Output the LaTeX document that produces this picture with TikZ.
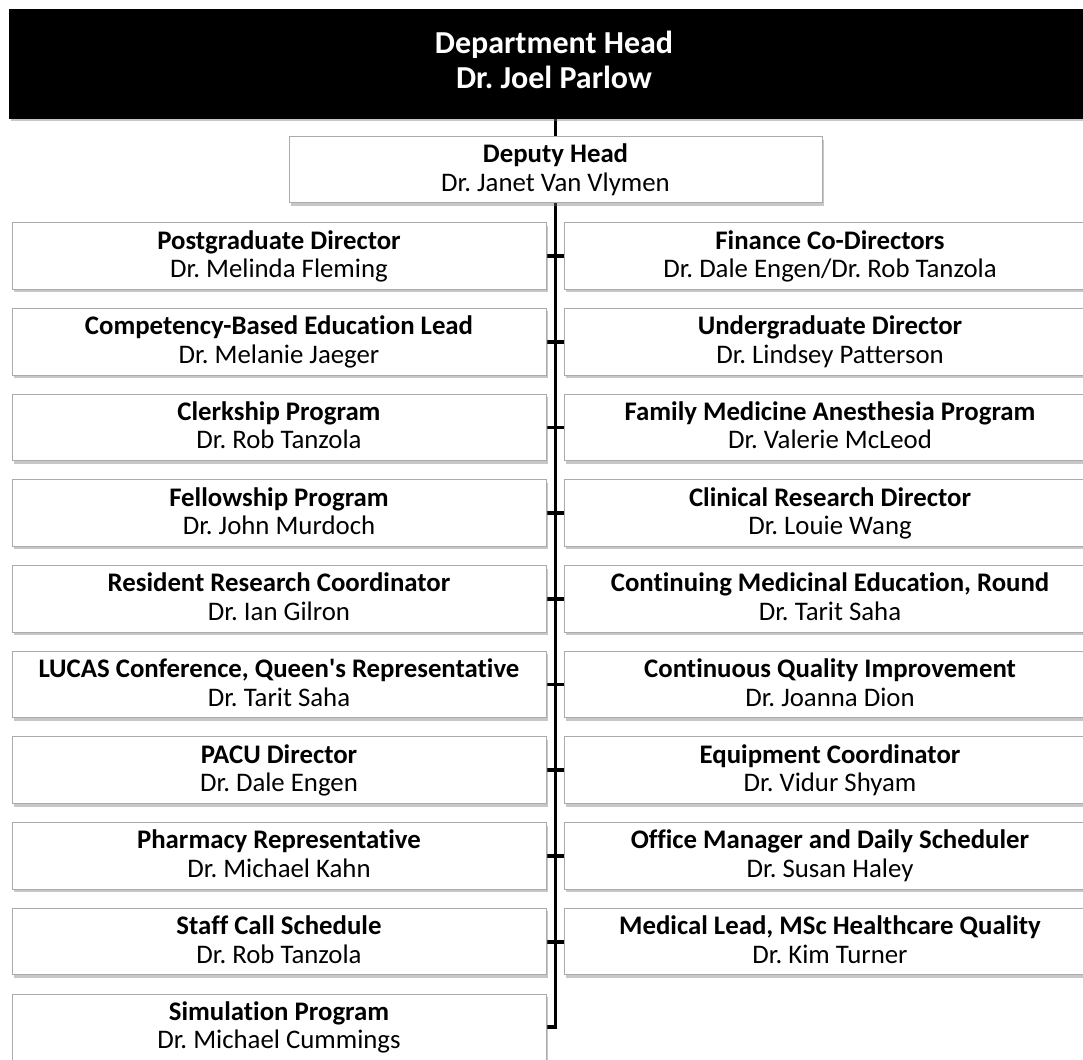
\documentclass[tikz,border=0pt]{standalone}
\usepackage{fontspec}
\setmainfont{Carlito}[Ligatures={NoCommon}]
\usetikzlibrary{shadows}
\pgfdeclarelayer{bg}
\pgfsetlayers{bg,main}
\newcommand{\topstrut}{\rule{0pt}{22.5pt}}
\newcommand{\botstrut}{\rule[-8pt]{0pt}{8pt}}
\newcommand{\crd}[2]{\textbf{#1}\topstrut\\#2\botstrut}
\frenchspacing
\begin{document}
\begin{tikzpicture}[x=1pt,y=-1pt,
  card/.style={draw=black!33, line width=1pt, fill=white, inner sep=0pt, align=center,
    font=\fontsize{26.8}{28.5}\selectfont,
    drop shadow={shadow xshift=1.5pt,shadow yshift=-3pt,fill=black!55,opacity=0.4}},
  lcard/.style={card, minimum width=534pt, minimum height=66.6pt},
  rcard/.style={card, minimum width=532pt, minimum height=66.6pt},
  headbox/.style={draw=black, fill=black, text=white, inner sep=0pt, align=center,
    minimum width=1090pt, minimum height=109pt,
    font=\fontsize{32}{35}\selectfont\bfseries,
    drop shadow={shadow xshift=1.5pt,shadow yshift=-3pt,fill=black!55,opacity=0.4}},
  link/.style={line width=3.8pt, line join=miter, draw=black}]
\useasboundingbox (0,0) rectangle (1083,1059);
\clip (0,0) rectangle (1083,1059);

\node[headbox] (head) at (554,63.5) {Department Head\rule{0pt}{26pt}\\Dr. Joel Parlow\rule[-10pt]{0pt}{10pt}};
\node[card, minimum width=533pt, minimum height=66pt] (dep) at (555.5,170) {\crd{Deputy Head}{Dr. Janet Van Vlymen}};

\node[lcard] (l1) at (279,256.0) {\crd{Postgraduate Director}{Dr. Melinda Fleming}};
\node[lcard] (l2) at (279,341.7) {\crd{Competency-Based Education Lead}{Dr. Melanie Jaeger}};
\node[lcard] (l3) at (279,427.4) {\crd{Clerkship Program}{Dr. Rob Tanzola}};
\node[lcard] (l4) at (279,513.1) {\crd{Fellowship Program}{Dr. John Murdoch}};
\node[lcard] (l5) at (279,598.8) {\crd{Resident Research Coordinator}{Dr. Ian Gilron}};
\node[lcard] (l6) at (279,684.5) {\crd{LUCAS Conference, Queen\textquotesingle s Representative}{Dr. Tarit Saha}};
\node[lcard] (l7) at (279,770.2) {\crd{PACU Director}{Dr. Dale Engen}};
\node[lcard] (l8) at (279,855.9) {\crd{Pharmacy Representative}{Dr. Michael Kahn}};
\node[lcard] (l9) at (279,941.6) {\crd{Staff Call Schedule}{Dr. Rob Tanzola}};
\node[lcard] (l10) at (279,1027.3) {\crd{Simulation Program}{Dr. Michael Cummings}};

\node[rcard] (r1) at (830,256.0) {\crd{Finance Co-Directors}{Dr. Dale Engen/Dr. Rob Tanzola}};
\node[rcard] (r2) at (830,341.7) {\crd{Undergraduate Director}{Dr. Lindsey Patterson}};
\node[rcard] (r3) at (830,427.4) {\crd{Family Medicine Anesthesia Program}{Dr. Valerie McLeod}};
\node[rcard] (r4) at (830,513.1) {\crd{Clinical Research Director}{Dr. Louie Wang}};
\node[rcard] (r5) at (830,598.8) {\crd{Continuing Medicinal Education, Round}{Dr. Tarit Saha}};
\node[rcard] (r6) at (830,684.5) {\crd{Continuous Quality Improvement}{Dr. Joanna Dion}};
\node[rcard] (r7) at (830,770.2) {\crd{Equipment Coordinator}{Dr. Vidur Shyam}};
\node[rcard] (r8) at (830,855.9) {\crd{Office Manager and Daily Scheduler}{Dr. Susan Haley}};
\node[rcard] (r9) at (830,941.6) {\crd{Medical Lead, MSc Healthcare Quality}{Dr. Kim Turner}};

\begin{pgfonlayer}{bg}
  \draw[link] (head.south -| dep.center) -- (dep.center |- l10.east) -- (l10.east);
  \foreach \i in {1,...,9} {
    \draw[link] (l\i.east) -- (r\i.west);
  }
\end{pgfonlayer}
\end{tikzpicture}
\end{document}
